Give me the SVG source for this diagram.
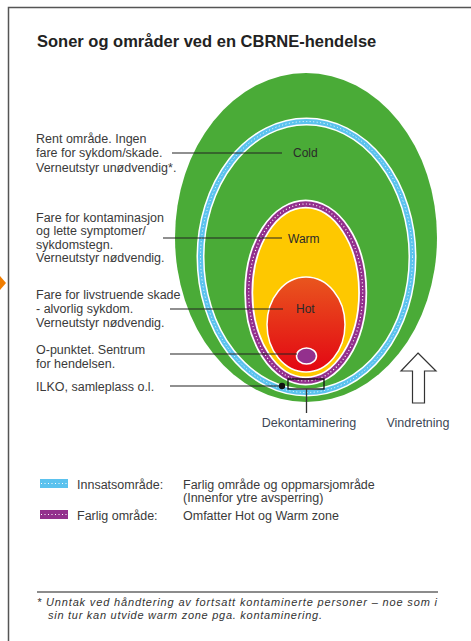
<svg xmlns="http://www.w3.org/2000/svg" width="471" height="641" viewBox="0 0 471 641">
<defs>
<linearGradient id="hotGrad" x1="0" y1="0" x2="0" y2="1">
<stop offset="0" stop-color="#e9561e"/>
<stop offset="1" stop-color="#e30613"/>
</linearGradient>
<style>
.t{font-family:"Liberation Sans",Arial,sans-serif;font-size:12.5px;fill:#3a3a3a}
.title{font-family:"Liberation Sans",Arial,sans-serif;font-size:16.5px;font-weight:bold;fill:#222}
.zone{font-family:"Liberation Sans",Arial,sans-serif;font-size:12px;fill:#2a2a2a}
.lbl{font-family:"Liberation Sans",Arial,sans-serif;font-size:12.5px;fill:#3d4756}
.leg{font-family:"Liberation Sans",Arial,sans-serif;font-size:12.5px;fill:#3a3a3a}
.foot{font-family:"Liberation Sans",Arial,sans-serif;font-size:11px;font-style:italic;fill:#333}
.lead{stroke:#222;stroke-width:1.2;fill:none}
</style>
</defs>
<rect width="471" height="641" fill="#fff"/>
<g id="frame">
<path d="M8.5,641 V7.5 H471" fill="none" stroke="#555" stroke-width="1.5"/>
<polygon points="0,276 6,283 0,290" fill="#f07d00"/>
</g>
<g id="title"><text class="title" x="37" y="47">Soner og områder ved en CBRNE-hendelse</text></g>

<g id="cold">
<ellipse cx="306" cy="237.5" rx="131" ry="164.5" fill="#4aab37"/>
<text class="zone" x="293" y="157">Cold</text>
</g>
<g id="innsats">
<ellipse cx="306.5" cy="257" rx="106" ry="135.5" fill="none" stroke="#fff" stroke-width="8"/>
<ellipse cx="306.5" cy="257" rx="106" ry="135.5" fill="none" stroke="#5bc2ee" stroke-width="5"/>
<ellipse cx="306.5" cy="257" rx="106" ry="135.5" fill="none" stroke="#fff" stroke-width="1" stroke-dasharray="1 2.5"/>
</g>
<g id="warm">
<ellipse cx="305.7" cy="292.5" rx="57" ry="88.5" fill="#fec800" stroke="#fff" stroke-width="9"/>
<ellipse cx="305.7" cy="292.5" rx="57" ry="88.5" fill="none" stroke="#93308d" stroke-width="5.5"/>
<ellipse cx="305.7" cy="292.5" rx="57" ry="88.5" fill="none" stroke="#fff" stroke-width="1.2" stroke-dasharray="1 2.5"/>
<text class="zone" x="288" y="243">Warm</text>
</g>
<g id="hot">
<ellipse cx="306" cy="324.5" rx="39" ry="47.5" fill="url(#hotGrad)" stroke="#fff" stroke-width="1.5"/>
<text class="zone" x="296" y="313">Hot</text>
</g>
<g id="opunkt">
<ellipse cx="306.5" cy="356" rx="10" ry="8" fill="#93308d" stroke="#fff" stroke-width="1.5"/>
</g>
<g id="dekontaminering">
<rect x="288" y="379" width="36" height="10" fill="none" stroke="#111" stroke-width="1.3"/>
<line x1="306.5" y1="389" x2="306.5" y2="413" stroke="#333" stroke-width="1.3"/>
<text class="lbl" x="309" y="427" text-anchor="middle">Dekontaminering</text>
</g>
<g id="vindretning">
<polygon points="418,353 436,371 424.5,371 424.5,403 412.5,403 412.5,371 401,371" fill="#fff" stroke="#333" stroke-width="1.2"/>
<text class="lbl" x="418" y="427" text-anchor="middle">Vindretning</text>
</g>

<g id="connectors">
<line class="lead" x1="172" y1="153" x2="282" y2="153"/>
<line class="lead" x1="163" y1="238" x2="282" y2="238"/>
<line class="lead" x1="170" y1="309" x2="283" y2="309"/>
<line class="lead" x1="170" y1="354" x2="297" y2="354"/>
<line class="lead" x1="170" y1="386" x2="282" y2="386"/>
<circle cx="282" cy="386" r="3.2" fill="#111"/>
</g>

<g id="desc-cold">
<text class="t" x="36" y="142.5">Rent område. Ingen</text>
<text class="t" x="36" y="157">fare for sykdom/skade.</text>
<text class="t" x="36" y="171.5">Verneutstyr unødvendig*.</text>
</g>
<g id="desc-warm">
<text class="t" x="36" y="221.5">Fare for kontaminasjon</text>
<text class="t" x="36" y="235">og lette symptomer/</text>
<text class="t" x="36" y="248.5">sykdomstegn.</text>
<text class="t" x="36" y="262">Verneutstyr nødvendig.</text>
</g>
<g id="desc-hot">
<text class="t" x="36" y="298.5">Fare for livstruende skade</text>
<text class="t" x="36" y="312.5">- alvorlig sykdom.</text>
<text class="t" x="36" y="326.5">Verneutstyr nødvendig.</text>
</g>
<g id="desc-opunkt">
<text class="t" x="36" y="353.5">O-punktet. Sentrum</text>
<text class="t" x="36" y="367.5">for hendelsen.</text>
</g>
<g id="desc-ilko">
<text class="t" x="36" y="391">ILKO, samleplass o.l.</text>
</g>

<g id="legend">
<rect x="40" y="479" width="28" height="9" fill="#5bc2ee"/>
<line x1="41" y1="483.5" x2="67" y2="483.5" stroke="#fff" stroke-width="1" stroke-dasharray="1 2.5"/>
<text class="leg" x="77" y="488.5">Innsatsområde:</text>
<text class="leg" x="183" y="488.5">Farlig område og oppmarsjområde</text>
<text class="leg" x="183" y="501.5">(Innenfor ytre avsperring)</text>
<rect x="40" y="510" width="28" height="9" fill="#93308d"/>
<line x1="41" y1="514.5" x2="67" y2="514.5" stroke="#fff" stroke-width="1" stroke-dasharray="1 2.5"/>
<text class="leg" x="77" y="519.5">Farlig område:</text>
<text class="leg" x="183" y="519.5">Omfatter Hot og Warm zone</text>
</g>

<g id="footnote">
<line x1="37" y1="592" x2="438" y2="592" stroke="#666" stroke-width="1.5"/>
<text class="foot" x="37" y="606" textLength="400" lengthAdjust="spacing">* Unntak ved håndtering av fortsatt kontaminerte personer – noe som i</text>
<text class="foot" x="48" y="619" textLength="274" lengthAdjust="spacing">sin tur kan utvide warm zone pga. kontaminering.</text>
</g>
</svg>
